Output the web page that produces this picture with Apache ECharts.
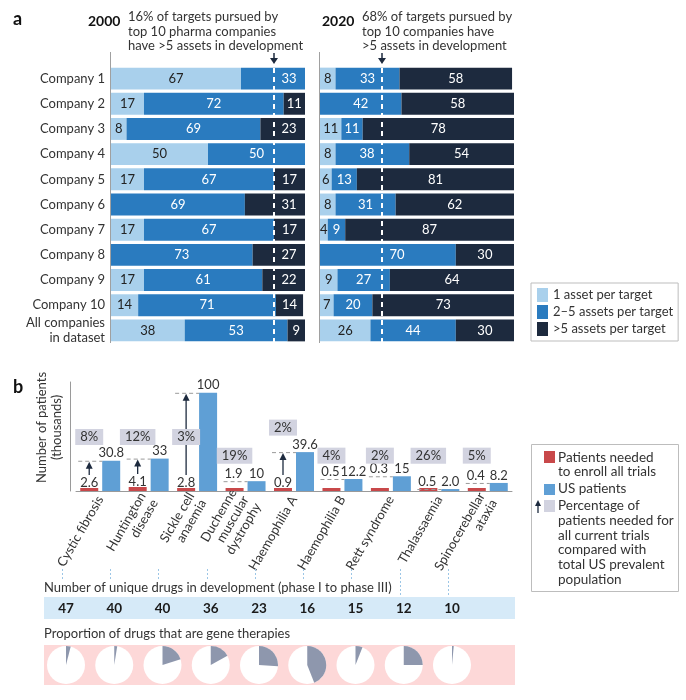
<!DOCTYPE html>
<html><head><meta charset="utf-8">
<script src="https://cdn.jsdelivr.net/npm/echarts@6/dist/echarts.min.js"></script>
<style>html,body{margin:0;padding:0;background:#fff}#c{width:686px;height:700px}</style>
</head><body><div id="c"></div>
<script>
// ---------- data: panel a ----------
const companies = ['Company 1','Company 2','Company 3','Company 4','Company 5','Company 6','Company 7','Company 8','Company 9','Company 10','All companies\nin dataset'];
const seriesNames = ['1 asset per target','2\u20135 assets per target','>5 assets per target'];
const one2000  = [67,17,8,50,17,0,17,0,17,14,38];
const mid2000  = [33,72,69,50,67,69,67,73,61,71,53];
const many2000 = [0,11,23,0,17,31,17,27,22,14,9];
const one2020  = [8,0,11,8,6,8,4,0,9,7,26];
const mid2020  = [33,42,11,38,13,31,9,70,27,20,44];
const many2020 = [58,58,78,54,81,62,87,30,64,73,30];
const manyShare2000 = 16;
const manyShare2020 = 68;
// ---------- data: panel b ----------
const diseases = ['Cystic fibrosis','Huntington\ndisease','Sickle cell\nanaemia','Duchenne\nmuscular\ndystrophy','Haemophilia A','Haemophilia B','Rett syndrome','Thalassaemia','Spinocerebellar\nataxia'];
const enrollNeeded = [2.6,4.1,2.8,1.9,0.9,0.5,0.3,0.5,0.4];
const usPatients   = [30.8,33,100,10,39.6,12.2,15,2.0,8.2];
const pctNeeded    = [8,12,3,19,2,4,2,26,5];
const uniqueDrugs  = [47,40,40,36,23,16,15,12,10];
const geneTherapyPct = [4,2.5,20,17,26,44,6,25,1.5];

// ---------- style ----------
const FONT = 'Lato, "Noto Sans", sans-serif';
const C_LIGHT = '#a9d0ec', C_MID = '#2a7bbf', C_DARK = '#1d2a3e';
const C_RED = '#c8484a', C_BLUE = '#5f9fd5', C_BOX = '#d2d3e0', C_PIE = '#8e97ad';
const TXT = '#333';
const BAR_W = 194, A_LEFT = [111, 320], A_TOP = 66, A_H = 277;

const chart = echarts.init(document.getElementById('c'));

function labelLayoutFor(gridLeft, share) {
  return function (p) {
    const r = p.rect;
    const x0 = Math.min(r.x, r.x + r.width), x1 = Math.max(r.x, r.x + r.width);
    const dash = gridLeft + (100 - share) / 100 * BAR_W;
    const c = (x0 + x1) / 2;
    if (dash <= x0 || dash >= x1 || Math.abs(c - dash) >= 12) return {};
    const left = dash - x0, right = x1 - dash;
    const target = left > right * 1.3 ? dash - 15 : dash + 15;
    return { dx: target - c };
  };
}
function segSeries(k, data, color, labelColor, g, share) {
  return {
    type: 'bar', name: seriesNames[k], data, stack: 'g' + g,
    xAxisIndex: g, yAxisIndex: g, barCategoryGap: '13%',
    itemStyle: { color }, emphasis: { disabled: true },
    label: { show: true, position: 'inside', color: labelColor, fontFamily: FONT, fontSize: 13,
      formatter: p => (p.value > 0 ? String(p.value) : '') },
    labelLayout: labelLayoutFor(A_LEFT[g], share)
  };
}
function markerSeries(g, share) {
  return {
    type: 'custom', xAxisIndex: g, yAxisIndex: g, clip: false, z: 5, silent: true,
    data: [[100 - share, 0]],
    renderItem(params, api) {
      const cs = params.coordSys;
      const x = Math.round(api.coord([api.value(0), 0])[0]);
      return { type: 'group', children: [
        { type: 'line', shape: { x1: cs.x - 0.5, y1: cs.y - 14, x2: cs.x - 0.5, y2: cs.y + cs.height }, style: { stroke: '#a0a0a0', lineWidth: 1 } },
        { type: 'line', shape: { x1: x, y1: cs.y + 2, x2: x, y2: cs.y + cs.height }, style: { stroke: '#fff', lineWidth: 2, lineDash: [5, 4] } },
        { type: 'line', shape: { x1: x, y1: cs.y - 13, x2: x, y2: cs.y - 6 }, style: { stroke: C_DARK, lineWidth: 1.5 } },
        { type: 'polygon', shape: { points: [[x - 4, cs.y - 8], [x + 4, cs.y - 8], [x, cs.y - 2]] }, style: { fill: C_DARK } }
      ]};
    }
  };
}

const HALF = 11; // half of (barWidth + gap) in panel b
const option = {
  animation: false,
  textStyle: { fontFamily: FONT },
  title: [
    { text: 'a', left: 8, top: 5, textStyle: { fontSize: 18, fontWeight: 'bold', color: '#111', fontFamily: FONT } },
    { text: '2000', left: 83, top: 9, textStyle: { fontSize: 14, fontWeight: 'bold', color: '#111', fontFamily: FONT } },
    { text: '16% of targets pursued by\ntop 10 pharma companies\nhave >5 assets in development', left: 123, top: 5,
      textStyle: { fontSize: 13, fontWeight: 'normal', color: TXT, lineHeight: 14.5, fontFamily: FONT } },
    { text: '2020', left: 317, top: 9, textStyle: { fontSize: 14, fontWeight: 'bold', color: '#111', fontFamily: FONT } },
    { text: '68% of targets pursued by\ntop 10 companies have\n>5 assets in development', left: 357, top: 5,
      textStyle: { fontSize: 13, fontWeight: 'normal', color: TXT, lineHeight: 14.5, fontFamily: FONT } },
    { text: 'b', left: 8, top: 373, textStyle: { fontSize: 18, fontWeight: 'bold', color: '#111', fontFamily: FONT } },
    { text: 'Number of unique drugs in development (phase I to phase III)', left: 41, top: 580, padding: [1, 3], backgroundColor: '#fff',
      textStyle: { fontSize: 13, fontWeight: 'normal', color: TXT, fontFamily: FONT } },
    { text: 'Proportion of drugs that are gene therapies', left: 41, top: 626, padding: [1, 3],
      textStyle: { fontSize: 13, fontWeight: 'normal', color: TXT, fontFamily: FONT } }
  ],
  legend: [{
    data: seriesNames, orient: 'vertical', left: 531, top: 283, icon: 'rect',
    itemWidth: 11, itemHeight: 14, itemGap: 3, padding: [5, 5, 5, 6],
    borderColor: '#bdbdbd', borderWidth: 1, selectedMode: false,
    textStyle: { fontFamily: FONT, fontSize: 13, color: TXT }
  }],
  grid: [
    { left: A_LEFT[0], top: A_TOP, width: BAR_W, height: A_H },
    { left: A_LEFT[1], top: A_TOP, width: BAR_W, height: A_H },
    { left: 76, top: 382, width: 436, height: 109 },
    { left: 44, top: 597, width: 471, height: 22, show: true, backgroundColor: '#d6eaf8', borderWidth: 0 },
    { left: 44, top: 645, width: 471, height: 40, show: true, backgroundColor: '#fdd8d8', borderWidth: 0 }
  ],
  xAxis: [
    { gridIndex: 0, type: 'value', min: 0, max: 100, show: false },
    { gridIndex: 1, type: 'value', min: 0, max: 100, show: false },
    { gridIndex: 2, type: 'category', data: diseases,
      axisLine: { lineStyle: { color: '#9a9a9a' } }, axisTick: { show: false },
      axisLabel: { interval: 0, rotate: 60, margin: 6, fontSize: 13, lineHeight: 14, color: TXT, fontFamily: FONT } },
    { gridIndex: 3, type: 'value', min: -0.456, max: 9.306, show: false },
    { gridIndex: 4, type: 'value', min: -0.456, max: 9.306, show: false }
  ],
  yAxis: [
    { gridIndex: 0, type: 'category', data: companies, inverse: true,
      axisLine: { show: false }, axisTick: { show: false },
      axisLabel: { margin: 6, fontSize: 13, lineHeight: 15, color: TXT, fontFamily: FONT } },
    { gridIndex: 1, type: 'category', data: companies, inverse: true,
      axisLine: { show: false }, axisTick: { show: false }, axisLabel: { show: false } },
    { gridIndex: 2, type: 'value', min: 0, max: 111, offset: 6,
      splitLine: { show: false }, axisTick: { show: false }, axisLabel: { show: false },
      axisLine: { show: true, lineStyle: { color: '#9a9a9a' } },
      name: 'Number of patients\n(thousands)', nameLocation: 'middle', nameGap: 6,
      nameTextStyle: { fontSize: 13, lineHeight: 15, color: TXT, fontFamily: FONT, padding: [0, 0, 0, 18] } },
    { gridIndex: 3, type: 'value', min: 0, max: 1, show: false },
    { gridIndex: 4, type: 'value', min: 0, max: 1, show: false }
  ],
  series: [
    segSeries(0, one2000, C_LIGHT, '#222', 0, manyShare2000),
    segSeries(1, mid2000, C_MID, '#fff', 0, manyShare2000),
    segSeries(2, many2000, C_DARK, '#fff', 0, manyShare2000),
    segSeries(0, one2020, C_LIGHT, '#222', 1, manyShare2020),
    segSeries(1, mid2020, C_MID, '#fff', 1, manyShare2020),
    segSeries(2, many2020, C_DARK, '#fff', 1, manyShare2020),
    markerSeries(0, manyShare2000),
    markerSeries(1, manyShare2020),
    { type: 'bar', name: 'Patients needed to enroll all trials', data: enrollNeeded, xAxisIndex: 2, yAxisIndex: 2,
      barWidth: 18, barGap: '22%', barMinHeight: 3, itemStyle: { color: C_RED }, emphasis: { disabled: true } },
    { type: 'bar', name: 'US patients', data: usPatients, xAxisIndex: 2, yAxisIndex: 2,
      barWidth: 18, barGap: '22%', itemStyle: { color: C_BLUE }, emphasis: { disabled: true } },
    { type: 'custom', name: 'annotations', xAxisIndex: 2, yAxisIndex: 2, clip: false, z: 4, silent: true,
      data: diseases.map((d, i) => [i, enrollNeeded[i], usPatients[i], pctNeeded[i]]),
      renderItem(params, api) {
        const i = api.value(0), red = api.value(1), blue = api.value(2), pct = api.value(3);
        const c = api.coord([i, 0]);
        const base = c[1];
        const redX = c[0] - HALF, blueX = c[0] + HALF;
        const redTop = Math.min(api.coord([i, red])[1], base - 3);
        const blueTop = api.coord([i, blue])[1];
        const font = '13px ' + FONT;
        const kids = [];
        kids.push({ type: 'line', shape: { x1: redX - 11, y1: blueTop + 0.5, x2: blueX - 9, y2: blueTop + 0.5 },
          style: { stroke: '#9a9a9a', lineWidth: 1, lineDash: [4, 3] } });
        const blueLabelY = blueTop - 7.5;
        const blueText = (blue % 1 !== 0 || blue < 5) ? blue.toFixed(1) : String(blue);
        kids.push({ type: 'text', style: { text: blueText, x: blueX, y: blueLabelY, align: 'center', verticalAlign: 'middle', fill: TXT, font } });
        let boxY;
        if (blue >= 20) {
          const redLabelY = redTop - 5;
          kids.push({ type: 'text', style: { text: String(red), x: redX, y: redLabelY, align: 'center', verticalAlign: 'middle', fill: TXT, font } });
          const aTop = blueTop + 1, aBot = redLabelY - 8;
          kids.push({ type: 'line', shape: { x1: redX, y1: aBot, x2: redX, y2: aTop + 5 }, style: { stroke: C_DARK, lineWidth: 1.3 } });
          kids.push({ type: 'polygon', shape: { points: [[redX - 3.5, aTop + 7], [redX + 3.5, aTop + 7], [redX, aTop]] }, style: { fill: C_DARK } });
          boxY = api.coord([i, 55])[1];
          const lblTop = blueLabelY - 7, lblBot = blueLabelY + 7;
          if (lblTop < boxY + 6 && lblBot > boxY - 8) boxY = lblTop - 10;
        } else {
          kids.push({ type: 'text', style: { text: String(red), x: redX - 1, y: blueLabelY, align: 'center', verticalAlign: 'middle', fill: TXT, font } });
          boxY = api.coord([i, 36])[1];
        }
        kids.push({ type: 'text', z2: 10, style: { text: pct + '%', x: redX, y: boxY, align: 'center', verticalAlign: 'middle',
          fill: TXT, font: '13px ' + FONT, backgroundColor: C_BOX, padding: [2, 5, 1, 5] } });
        return { type: 'group', children: kids };
      } },
    { type: 'custom', name: 'unique drugs', xAxisIndex: 3, yAxisIndex: 3, clip: false, z: 2, silent: true,
      data: uniqueDrugs.map((v, i) => [i, v]),
      renderItem(params, api) {
        const cs = params.coordSys;
        const p = api.coord([api.value(0), 0.5]);
        const x = Math.round(p[0]) - 3.5;
        return { type: 'group', children: [
          { type: 'line', shape: { x1: x, y1: cs.y - 28, x2: x, y2: cs.y - 2 }, style: { stroke: '#9cc6e6', lineWidth: 1, lineDash: [2, 2] } },
          { type: 'text', style: { text: String(api.value(1)), x: p[0], y: p[1] + 0.5, align: 'center', verticalAlign: 'middle',
            fill: '#1a1a1a', font: 'bold 13.5px ' + FONT } }
        ]};
      } },
    { type: 'custom', name: 'gene therapies', xAxisIndex: 4, yAxisIndex: 4, clip: false, z: 2, silent: true,
      data: geneTherapyPct.map((v, i) => [i, v]),
      renderItem(params, api) {
        const p = api.coord([api.value(0), 0.5]);
        const f = api.value(1) / 100;
        const r = 19;
        return { type: 'group', children: [
          { type: 'circle', shape: { cx: p[0], cy: p[1], r }, style: { fill: '#fff' } },
          { type: 'sector', shape: { cx: p[0], cy: p[1], r0: 0, r, startAngle: -Math.PI / 2, endAngle: -Math.PI / 2 + 2 * Math.PI * f, clockwise: true },
            style: { fill: C_PIE } }
        ]};
      } }
  ],
  graphic: [
    { type: 'rect', shape: { x: 531.5, y: 444.5, width: 147, height: 147 }, style: { fill: 'none', stroke: '#bdbdbd', lineWidth: 1 } },
    { type: 'rect', shape: { x: 544, y: 451, width: 11, height: 12 }, style: { fill: C_RED } },
    { type: 'text', x: 558, y: 450, style: { text: 'Patients needed\nto enroll all trials', font: '13.5px ' + FONT, fill: TXT, lineHeight: 14.5 } },
    { type: 'rect', shape: { x: 544, y: 484, width: 11, height: 11 }, style: { fill: C_BLUE } },
    { type: 'text', x: 558, y: 481, style: { text: 'US patients', font: '13.5px ' + FONT, fill: TXT, lineHeight: 14.5 } },
    { type: 'line', shape: { x1: 538, y1: 513, x2: 538, y2: 505 }, style: { stroke: C_DARK, lineWidth: 1.3 } },
    { type: 'polygon', shape: { points: [[535, 506], [541, 506], [538, 500]] }, style: { fill: C_DARK } },
    { type: 'rect', shape: { x: 544, y: 500, width: 11, height: 12 }, style: { fill: C_BOX } },
    { type: 'text', x: 558, y: 498.5, style: { text: 'Percentage of\npatients needed for\nall current trials\ncompared with\ntotal US prevalent\npopulation',
      font: '13.5px ' + FONT, fill: TXT, lineHeight: 14.7 } }
  ]
};
chart.setOption(option);
</script>
</body></html>
